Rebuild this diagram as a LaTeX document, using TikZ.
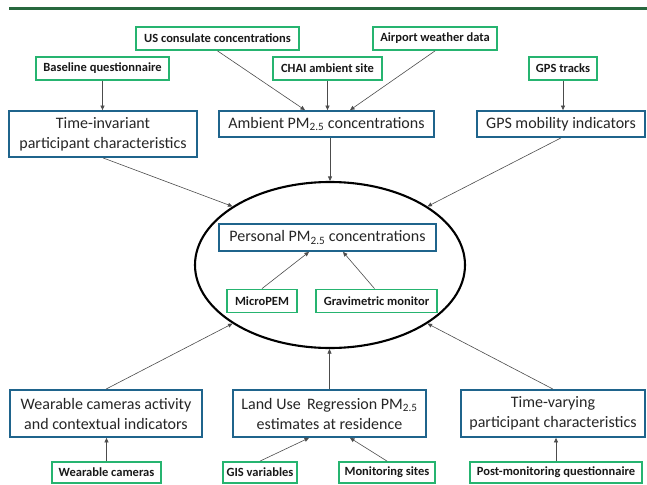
\documentclass[tikz,border=0pt]{standalone}
\usepackage{fontspec}
\setmainfont{Carlito}
\usepackage{xcolor}
\usepackage{tikz}
\usetikzlibrary{arrows.meta, shapes.geometric}

\definecolor{srcgreen}{RGB}{38,180,112}
\definecolor{boxblue}{RGB}{31,100,140}
\definecolor{linegreen}{RGB}{40,104,62}

\tikzset{
	greenbox/.style={draw=srcgreen, line width=1.8pt, fill=white, inner sep=0pt,
		font=\fontsize{12.5}{15}\selectfont\bfseries, text=black!90},
	bluebox/.style={draw=boxblue, line width=1.8pt, fill=white, inner sep=0pt, align=center,
		font=\fontsize{16}{20}\selectfont, text=black!85},
	arrow/.style={-{Triangle[length=4.5pt,width=4pt]}, line width=0.6pt, draw=black!70}
}

\begin{document}
\begin{tikzpicture}[x=1pt, y=-1pt]
		\useasboundingbox (0,0) rectangle (647,484);
		
		%line on top
		\draw [linegreen, line width=3pt] (9,9) -- (647,9);
		
		%sources of the upper row
		\node [greenbox, minimum width=163pt, minimum height=23pt] (uscons) at (217.5,38.5) {US consulate concentrations};
		\node [greenbox, minimum width=124pt, minimum height=23pt] (airport) at (435,38.5) {Airport weather data};
		\node [greenbox, minimum width=133pt, minimum height=23pt] (baseline) at (102.5,68.5) {Baseline questionnaire};
		\node [greenbox, minimum width=109pt, minimum height=23pt] (chai) at (327.5,68.5) {CHAI ambient site};
		\node [greenbox, minimum width=68pt, minimum height=23pt] (gpstracks) at (563,68.5) {GPS tracks};
		
		%upper indicators
		\node [bluebox, minimum width=188pt, minimum height=46pt] (timeinv) at (103,134) {Time-invariant\\participant characteristics};
		\node [bluebox, minimum width=215pt, minimum height=26pt] (ambient) at (326.5,124) {Ambient PM\textsubscript{2.5} concentrations};
		\node [bluebox, minimum width=168pt, minimum height=26pt] (gpsmob) at (561,124) {GPS mobility indicators};
		
		%personal exposure
		\node [draw, ellipse, line width=2.1pt, minimum width=270pt, minimum height=166pt] (ell) at (330,265) {};
		\node [bluebox, minimum width=217pt, minimum height=27pt] (personal) at (327.5,237.5) {Personal PM\textsubscript{2.5} concentrations};
		\node [greenbox, minimum width=70pt, minimum height=23pt] (micropem) at (262,301) {MicroPEM};
		\node [greenbox, minimum width=121pt, minimum height=23pt] (gravi) at (376.5,301) {Gravimetric monitor};
		
		%lower indicators
		\node [bluebox, minimum width=192pt, minimum height=47pt] (wearact) at (106,413.5) {Wearable cameras activity\\and contextual indicators};
		\node [bluebox, minimum width=193pt, minimum height=47pt] (lur) at (329.5,413.5) {Land Use\ \,Regression PM\textsubscript{2.5}\\estimates at residence};
		\node [bluebox, minimum width=184pt, minimum height=47pt] (timevar) at (553,413.5) {Time-varying\\participant characteristics};
		
		%sources of the lower row
		\node [greenbox, minimum width=109pt, minimum height=21pt] (wearcam) at (106.5,472.5) {Wearable cameras};
		\node [greenbox, minimum width=74pt, minimum height=21pt] (gis) at (260,472.5) {GIS variables};
		\node [greenbox, minimum width=96pt, minimum height=21pt] (monsites) at (387,472.5) {Monitoring sites};
		\node [greenbox, minimum width=172pt, minimum height=21pt] (postmon) at (556,472.5) {Post-monitoring questionnaire};
		
		%arrows
		\draw [arrow] (uscons.south) -- ([xshift=-21.5pt]ambient.north);
		\draw [arrow] (airport.south) -- ([xshift=23.5pt]ambient.north);
		\draw [arrow] (chai.south) -- (chai.south |- ambient.north);
		\draw [arrow] (baseline.south) -- (baseline.south |- timeinv.north);
		\draw [arrow] (gpstracks.south) -- (gpstracks.south |- gpsmob.north);
		
		\draw [arrow] (timeinv.south) -- (ell.149);
		\draw [arrow] (ell.north |- ambient.south) -- (ell.north);
		\draw [arrow] (gpsmob.south) -- (ell.31);
		
		\draw [arrow] (micropem.north) -- ([xshift=-18.5pt]personal.south);
		\draw [arrow] ([xshift=-2pt]gravi.north) -- ([xshift=15.5pt]personal.south);
		
		\draw [arrow] (wearact.north) -- (ell.211);
		\draw [arrow] (lur.north) -- (lur.north |- ell.south);
		\draw [arrow] (timevar.north) -- (ell.329);
		
		\draw [arrow] (wearcam.north) -- (wearcam.north |- wearact.south);
		\draw [arrow] (gis.north) -- ([xshift=-20.5pt]lur.south);
		\draw [arrow] (monsites.north) -- ([xshift=20.5pt]lur.south);
		\draw [arrow] (postmon.north) -- (postmon.north |- timevar.south);
	\end{tikzpicture}
\end{document}
